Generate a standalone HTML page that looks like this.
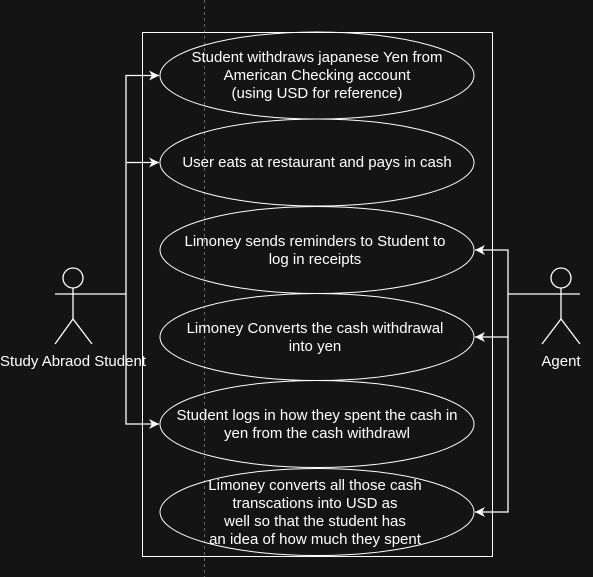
<!DOCTYPE html>
<html><head><style>
html,body{margin:0;padding:0;background:#141414;}
svg{display:block;}
text{font-family:"Liberation Sans",Arial,sans-serif;font-size:15px;fill:#ffffff;text-anchor:middle;}
</style></head><body>
<svg width="593" height="577" viewBox="0 0 593 577">
<defs><marker id="a" markerWidth="12" markerHeight="12" refX="10" refY="5" orient="auto" markerUnits="userSpaceOnUse"><path d="M0,0 L10,5 L0,10 L3,5 Z" fill="#fff"/></marker></defs>
<rect width="593" height="577" fill="#141414"/>
<line x1="204.5" y1="0" x2="204.5" y2="577" stroke="#666" stroke-dasharray="3,3"/>
<rect x="142.5" y="32.5" width="350" height="524" fill="none" stroke="#fff"/>
<g fill="none" stroke="#fff">
<ellipse cx="317" cy="75.5" rx="157" ry="43.5"/>
<ellipse cx="317" cy="162.5" rx="157" ry="43.5"/>
<ellipse cx="317" cy="250" rx="157" ry="43.5"/>
<ellipse cx="317" cy="337" rx="157" ry="43.5"/>
<ellipse cx="317" cy="424" rx="157" ry="43.5"/>
<ellipse cx="317" cy="512" rx="157" ry="43.5"/>
</g>
<text x="317" y="62">Student withdraws japanese Yen from</text>
<text x="317" y="80">American Checking account</text>
<text x="317" y="98">(using USD for reference)</text>
<text x="317" y="167">User eats at restaurant and pays in cash</text>
<text x="315" y="246">Limoney sends reminders to Student to</text>
<text x="315" y="264">log in receipts</text>
<text x="315" y="333">Limoney Converts the cash withdrawal</text>
<text x="315" y="351">into yen</text>
<text x="317" y="420">Student logs in how they spent the cash in</text>
<text x="317" y="438">yen from the cash withdrawl</text>
<text x="315" y="490">Limoney converts all those cash</text>
<text x="315" y="508">transcations into USD as</text>
<text x="315" y="526">well so that the student has</text>
<text x="315" y="544">an idea of how much they spent</text>
<g fill="none" stroke="#fff" stroke-width="1.3">
<circle cx="73" cy="278" r="10"/>
<line x1="55" y1="294" x2="92" y2="294"/>
<line x1="73" y1="288" x2="73" y2="319"/>
<polyline points="55,344 73,319 92,344"/>
<circle cx="561" cy="278" r="10"/>
<line x1="542" y1="294" x2="580" y2="294"/>
<line x1="561" y1="288" x2="561" y2="319"/>
<polyline points="542,344 561,319 580,344"/>
<polyline points="92,294 126,294"/>
<polyline points="126,294 126,75.5 159,75.5" marker-end="url(#a)"/>
<polyline points="126,162.5 159,162.5" marker-end="url(#a)"/>
<polyline points="126,294 126,424 159,424" marker-end="url(#a)"/>
<polyline points="542,294 508,294"/>
<polyline points="508,294 508,250 475,250" marker-end="url(#a)"/>
<polyline points="508,337 475,337" marker-end="url(#a)"/>
<polyline points="508,294 508,512 475,512" marker-end="url(#a)"/>
</g>
<text x="73" y="366">Study Abraod Student</text>
<text x="561" y="366">Agent</text>
</svg>
</body></html>
